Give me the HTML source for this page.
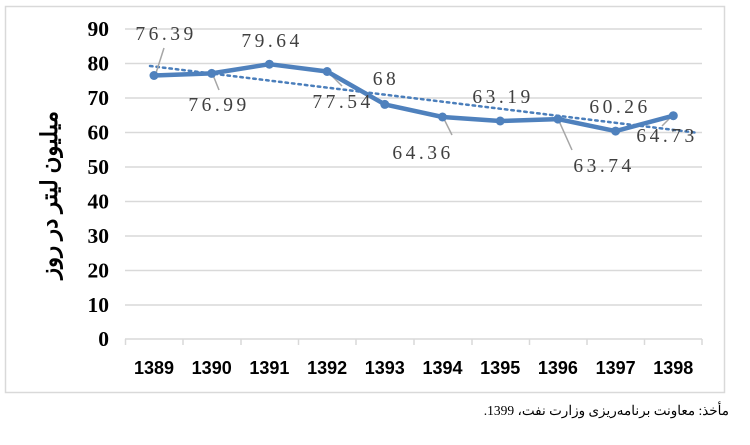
<!DOCTYPE html>
<html><head><meta charset="utf-8"><style>
body{margin:0;background:#fff;position:relative;width:750px;height:445px;overflow:hidden}
svg{display:block}
.cap{position:absolute;right:21px;top:403px;font-family:"Liberation Serif","Noto Sans CJK SC",serif;font-size:13.5px;direction:rtl;white-space:nowrap;color:#000}
</style></head><body>
<svg width="750" height="445" viewBox="0 0 750 445" xmlns="http://www.w3.org/2000/svg">
<rect x="5.5" y="6.5" width="719" height="386" fill="#fff" stroke="#d9d9d9" stroke-width="1.5"/>
<g stroke="#d9d9d9" stroke-width="1.5">
<line x1="125" x2="702" y1="29" y2="29"/>
<line x1="125" x2="702" y1="63.5" y2="63.5"/>
<line x1="125" x2="702" y1="98" y2="98"/>
<line x1="125" x2="702" y1="132.5" y2="132.5"/>
<line x1="125" x2="702" y1="167" y2="167"/>
<line x1="125" x2="702" y1="201.5" y2="201.5"/>
<line x1="125" x2="702" y1="236" y2="236"/>
<line x1="125" x2="702" y1="270.5" y2="270.5"/>
<line x1="125" x2="702" y1="305" y2="305"/>
<line x1="125" x2="702" y1="339" y2="339"/>
<line x1="125.5" x2="125.5" y1="339" y2="345"/>
<line x1="183" x2="183" y1="339" y2="345"/>
<line x1="241" x2="241" y1="339" y2="345"/>
<line x1="298.5" x2="298.5" y1="339" y2="345"/>
<line x1="356" x2="356" y1="339" y2="345"/>
<line x1="414" x2="414" y1="339" y2="345"/>
<line x1="472" x2="472" y1="339" y2="345"/>
<line x1="529.5" x2="529.5" y1="339" y2="345"/>
<line x1="587" x2="587" y1="339" y2="345"/>
<line x1="644.5" x2="644.5" y1="339" y2="345"/>
<line x1="702" x2="702" y1="339" y2="345"/>
</g>
<g font-family="Liberation Serif, serif" font-weight="bold" font-size="21.5" text-anchor="end" fill="#000">
<text x="109" y="36">90</text><text x="109" y="70.5">80</text><text x="109" y="105">70</text>
<text x="109" y="139.5">60</text><text x="109" y="174">50</text><text x="109" y="208.5">40</text>
<text x="109" y="243">30</text><text x="109" y="277.5">20</text><text x="109" y="312">10</text>
<text x="109" y="346">0</text>
</g>
<g font-family="Liberation Sans, sans-serif" font-weight="bold" font-size="18" text-anchor="middle" fill="#000">
<text x="154" y="374">1389</text><text x="211.7" y="374">1390</text><text x="269.4" y="374">1391</text>
<text x="327.1" y="374">1392</text><text x="384.8" y="374">1393</text><text x="442.5" y="374">1394</text>
<text x="500.2" y="374">1395</text><text x="557.9" y="374">1396</text><text x="615.6" y="374">1397</text>
<text x="673.3" y="374">1398</text>
</g>
<text transform="translate(57,195) rotate(-90)" text-anchor="middle" font-family="Liberation Serif, 'Noto Sans CJK SC', serif" font-weight="bold" font-size="23" fill="#000" direction="rtl">میلیون لیتر در روز</text>
<line x1="150" y1="66" x2="695" y2="132.5" stroke="#4a7ebb" stroke-width="2.5" stroke-dasharray="2.5,4" stroke-linecap="round"/>
<g stroke="#a6a6a6" stroke-width="1.5">
<line x1="164" y1="48" x2="156" y2="73"/>
<line x1="213" y1="75" x2="219" y2="90"/>
<line x1="329" y1="73" x2="342" y2="86"/>
<line x1="444" y1="119" x2="452" y2="135"/>
<line x1="559" y1="121" x2="572" y2="150"/>
<line x1="671" y1="117" x2="662" y2="126"/>
</g>
<polyline points="154,75.5 211.7,73.4 269.4,64.2 327.1,71.5 384.8,104.4 442.5,117 500.2,121 557.9,119.1 615.6,131.1 673.3,115.7" fill="none" stroke="#4f81bd" stroke-width="4.5" stroke-linejoin="round"/>
<g fill="#4f81bd">
<circle cx="154" cy="75.5" r="4.5"/><circle cx="211.7" cy="73.4" r="4.5"/><circle cx="269.4" cy="64.2" r="4.5"/>
<circle cx="327.1" cy="71.5" r="4.5"/><circle cx="384.8" cy="104.4" r="4.5"/><circle cx="442.5" cy="117" r="4.5"/>
<circle cx="500.2" cy="121" r="4.5"/><circle cx="557.9" cy="119.1" r="4.5"/><circle cx="615.6" cy="131.1" r="4.5"/>
<circle cx="673.3" cy="115.7" r="4.5"/>
</g>
<g font-family="Liberation Serif, serif" font-size="19.5" fill="#404040" text-anchor="middle" letter-spacing="3.5">
<text x="166" y="40">76.39</text>
<text x="219" y="111">76.99</text>
<text x="272" y="47">79.64</text>
<text x="343" y="108">77.54</text>
<text x="386" y="85">68</text>
<text x="423" y="159">64.36</text>
<text x="503" y="103">63.19</text>
<text x="604" y="172">63.74</text>
<text x="620" y="113">60.26</text>
<text x="667" y="142">64.73</text>
</g>
</svg>
<div class="cap">مأخذ: معاونت برنامه‌ریزی وزارت نفت، 1399.</div>
</body></html>
